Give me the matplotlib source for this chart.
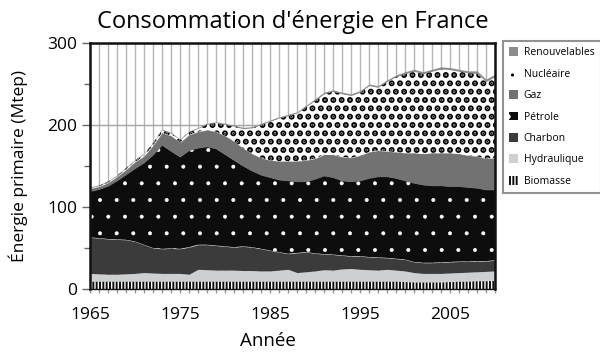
import numpy as np
import matplotlib.pyplot as plt
from matplotlib.ticker import MultipleLocator

plt.rcParams['font.family'] = ['Open Sans', 'DejaVu Sans']

years = np.arange(1965, 2011)

# Mtep, de bas en haut de la pile
biomasse = [9.5, 9.5, 9.5, 9.5, 9.5, 9.5, 9.5, 9.5, 9.5, 9.5,
            9.5, 9.5, 9.5, 9.5, 9.5, 9.5, 9.5, 9.5, 9.5, 9.5,
            9.5, 9.5, 9.5, 9.5, 9.5, 9.5, 9.5, 9.5, 9.5, 9.5,
            9.5, 9.5, 9.5, 9.5, 9.5, 9.0, 8.5, 8.5, 8.5, 8.5,
            9.0, 9.5, 9.5, 10.0, 10.0, 10.5]
hydraulique = [9.5, 9.0, 8.5, 8.5, 9.0, 9.5, 10.5, 10.0, 9.5, 9.5,
               9.5, 8.5, 14.5, 14.0, 13.5, 13.5, 13.5, 13.0, 13.0, 12.5,
               12.5, 13.5, 14.5, 10.5, 11.5, 12.5, 14.0, 13.5, 15.0, 15.5,
               14.5, 14.0, 13.5, 14.5, 13.5, 13.0, 11.5, 10.5, 10.5, 10.5,
               10.5, 10.5, 11.0, 11.0, 11.5, 11.5]
charbon = [44, 43.5, 43, 42.5, 41.5, 39, 34, 30.5, 30, 30.5,
           30, 33, 30, 30.5, 30, 29, 28, 29.5, 28.5, 27,
           25, 22, 19, 24, 24, 21.5, 19, 19, 16.5, 15,
           16, 15.5, 15.5, 14, 14, 14, 13, 13, 13, 13.5,
           13.5, 13.5, 13, 13, 12.5, 13]
petrole = [56, 59.5, 64.5, 71.5, 79.5, 89, 100, 113.5, 126.5, 118.5,
           112, 118, 118, 119.5, 118, 112, 106, 98, 93, 90,
           89, 88, 89, 87, 86, 90.5, 95.5, 94, 91, 91,
           92, 96, 98.5, 99, 98, 96, 96, 95, 94, 93.5,
           92, 91.5, 90.5, 89, 87, 86]
gaz = [3.5, 3.5, 4, 5, 6, 8, 8, 11.5, 15, 19,
       18, 19, 20, 20.5, 21, 23, 23, 22, 21, 21,
       21, 23, 24, 25, 26, 25, 26, 28, 29, 29,
       31, 32, 32, 31, 32, 34, 37, 38, 40, 40,
       41, 40, 39, 39, 38, 39]
nucleaire = [1, 1, 1.5, 1, 2, 2, 2.5, 3, 3.5, 3,
             3, 3.5, 4, 7, 11, 13.5, 18.5, 23.5, 31.5, 40.5,
             47.5, 52.5, 55.5, 58.5, 65.5, 71, 74, 77, 77, 76,
             77, 81, 77, 85, 92, 96.5, 99.5, 97.5, 99.5, 102.5,
             101.5, 100.5, 100.5, 101, 94, 99]
renouvelables = [1, 1, 1, 1, 1, 1, 1, 1, 1, 1,
                 1, 1, 1, 1, 1, 1.5, 1.5, 1.5, 1.5, 1.5,
                 1.5, 1.5, 1.5, 1.5, 1.5, 2, 2, 2, 2, 2,
                 2, 2, 2, 2, 2, 2.5, 2.5, 2.5, 2.5, 2.5,
                 2.5, 2.5, 2.5, 3, 3, 3]

labels = ["Biomasse", "Hydraulique", "Charbon", "Pétrole", "Gaz",
          "Nucléaire", "Renouvelables"]
series = [biomasse, hydraulique, charbon, petrole, gaz, nucleaire, renouvelables]
# face, couleur du motif, motif, épaisseur du motif
styles = [("#0d0d0d", "white", "|||||", 1.0),
          ("#cdd0d0", "#cdd0d0", None, 1.0),
          ("#3b3b3b", "#3b3b3b", None, 1.0),
          ("#0d0d0d", "white", ".", 0.4),
          ("#727272", "#727272", None, 1.0),
          ("white", "black", "..", 3.0),
          ("#8c8c8c", "#8c8c8c", None, 1.0)]

fig = plt.figure(figsize=(6, 3.57), dpi=100)
ax = fig.add_axes([0.15, 0.1905, 0.675, 0.689])

bottom = np.zeros(len(years))
handles = []
for name, vals, (fc, ec, hatch, hlw) in zip(labels, series, styles):
    top = bottom + np.array(vals)
    with plt.rc_context({'hatch.linewidth': hlw}):
        coll = ax.fill_between(years, bottom, top, facecolor=fc, edgecolor=ec,
                               hatch=hatch, linewidth=0, label=name, zorder=2)
        if hasattr(coll, 'set_hatch_linewidth'):
            coll.set_hatch_linewidth(hlw)
    handles.append(coll)
    bottom = top

ax.set_xlim(1965, 2010)
ax.set_ylim(0, 300)
ax.set_axisbelow(True)

ax.set_xticks(range(1965, 2010, 10))
ax.xaxis.set_minor_locator(MultipleLocator(1))
ax.yaxis.set_major_locator(MultipleLocator(100))
ax.yaxis.set_minor_locator(MultipleLocator(50))

ax.grid(axis='x', which='minor', color='#b5b5b5', linewidth=1)
ax.grid(axis='x', which='major', color='#b5b5b5', linewidth=1)
ax.grid(axis='y', which='major', color='#a5a5a5', linewidth=1)

ax.tick_params(axis='x', which='both', length=3, width=1, color='#999999',
               pad=10, labelsize=12.5)
ax.tick_params(axis='y', which='major', length=6, width=1, color='#666666',
               pad=3, labelsize=12.5)
ax.tick_params(axis='y', which='minor', length=4, width=1, color='#666666')

for s in ax.spines.values():
    s.set_color('#111111')
    s.set_linewidth(1.8)
ax.spines['bottom'].set_linewidth(1.0)

ax.set_title("Consommation d'énergie en France", fontsize=17, pad=11)
ax.set_xlabel("Année", fontsize=13.5)
ax.xaxis.set_label_coords(0.44, -0.175)
ax.set_ylabel("Énergie primaire (Mtep)", fontsize=12.5)
ax.yaxis.set_label_coords(-0.153, 0.5)

leg = fig.legend(handles[::-1], labels[::-1], loc='upper left',
                 bbox_to_anchor=(0.838, 0.885), fontsize=7.5, frameon=True,
                 fancybox=False, edgecolor='#777777', handlelength=0.9,
                 handleheight=0.9, labelspacing=1.0, borderpad=0.6,
                 handletextpad=0.5, borderaxespad=0)
leg.get_frame().set_linewidth(1.5)

fig.savefig("out.png", dpi=100)
